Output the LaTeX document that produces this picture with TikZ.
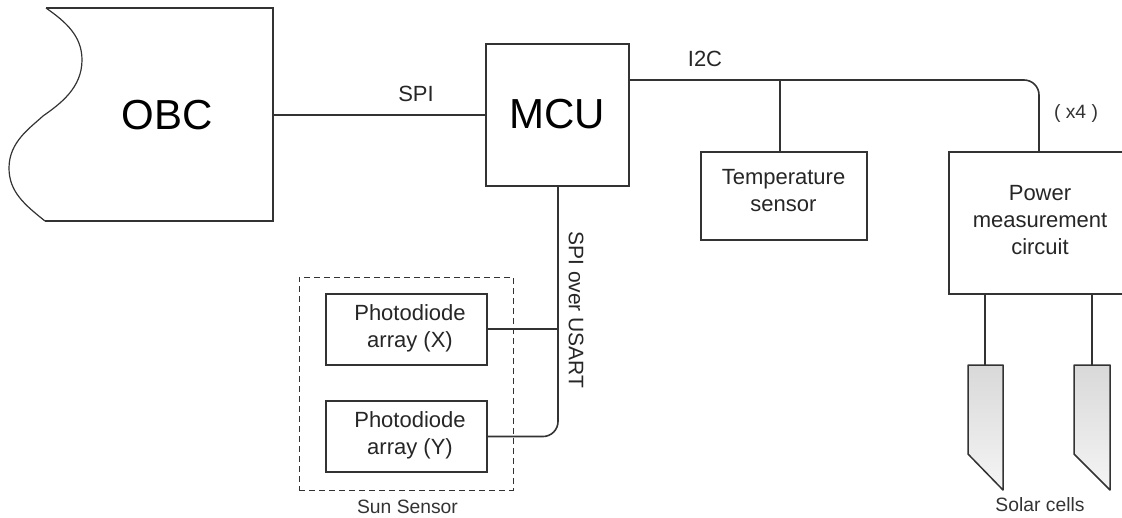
\documentclass[tikz,border=0pt]{standalone}
\usepackage{fontspec}
\setmainfont{Liberation Sans}
\definecolor{ln}{HTML}{333333}
\tikzset{
  boxed/.style={draw=ln,line width=1.6pt,fill=white,inner sep=0pt,outer sep=0pt,anchor=north west},
  wire/.style={draw=ln,line width=1.6pt},
  lab/.style={inner sep=0pt,text=black!85,font=\fontsize{22}{27}\selectfont,align=center},
  small/.style={inner sep=0pt,text=black!80,font=\fontsize{19.3}{23}\selectfont,align=center},
  big/.style={inner sep=0pt,text=black,font=\fontsize{42}{48}\selectfont},
}
\begin{document}
\begin{tikzpicture}[x=1pt,y=-1pt]
\useasboundingbox (0,0) rectangle (1122,517);
% nodes
\coordinate (obcA) at (46,8);
\coordinate (obcB) at (273,8);
\coordinate (obcC) at (273,221);
\coordinate (obcD) at (45,221);
\draw[draw=ln,line width=1.6pt,line join=miter] (obcA) -- (obcB) -- (obcC) -- (obcD);
\draw[draw=ln,line width=1.2pt] (obcD) .. controls (25,205) and (9,192) .. (9,168)
  .. controls (9,142) and (30,128) .. (43,116)
  .. controls (60,104) and (82,88) .. (82,60)
  .. controls (82,36) and (66,22) .. (obcA);
\node[big] (obc) at (167,115) {OBC};
\node[boxed,minimum width=143pt,minimum height=142pt] (mcu) at (486,44) {};
\node[big] at (557.5,114) {MCU};
\node[boxed,minimum width=166pt,minimum height=88pt] (temp) at (701,152) {};
\node[lab] at (783.5,191) {Temperature\\sensor};
\node[boxed,minimum width=180pt,minimum height=142pt] (pow) at (949,152) {};
\node[lab] at (1040,220) {Power\\measurement\\circuit};
\node[draw=ln,dash pattern=on 6pt off 4pt,line width=1pt,anchor=north west,minimum width=214pt,minimum height=213pt,inner sep=0pt,outer sep=0pt] (sun) at (299,277) {};
\node[boxed,minimum width=161pt,minimum height=71pt] (pdx) at (326,294) {};
\node[lab] at (410,328) {Photodiode\\array (X)};
\node[boxed,minimum width=161pt,minimum height=71pt] (pdy) at (326,401) {};
\node[lab] at (410,435) {Photodiode\\array (Y)};
\node[small] (sunl) at (407.5,507) {Sun Sensor};
\node[small] (solarl) at (1040,505) {Solar cells};
\node[lab] (spi) at (416,94) {SPI};
\node[lab] (i2c) at (705,59) {I2C};
\node[small] (x4) at (1076,114) {( x4 )};
\node[lab,font=\fontsize{21}{25}\selectfont,rotate=-90] (usart) at (576,310) {SPI over USART};
% solar cells
\foreach \n/\xa/\xb in {a/968/1003,b/1074/1110}{
  \path[draw=ln,line width=1.5pt,top color=black!15,bottom color=black!4,line join=round]
    (\xa,365) -- (\xb,365) -- (\xb,490) -- (\xa,454) -- cycle;
}
\coordinate (sola) at (985,365);
\coordinate (solb) at (1092,365);
% wires
\draw[wire] (obcC |- 0,115) -- (mcu.west |- 0,115);
\draw[wire,rounded corners=15pt] (mcu.east |- 0,80) -- (1039,80) -- (pow.north -| 1039,0);
\draw[wire] (780,80) -- (temp.north -| 780,0);
\draw[wire] (pow.south -| sola) -- (sola);
\draw[wire] (pow.south -| solb) -- (solb);
\draw[wire] (mcu.south -| 558,0) -- (558,329) -- (pdx.east |- 0,329);
\draw[wire,rounded corners=15pt] (558,329) -- (558,436.5) -- (pdy.east |- 0,436.5);
\end{tikzpicture}
\end{document}
